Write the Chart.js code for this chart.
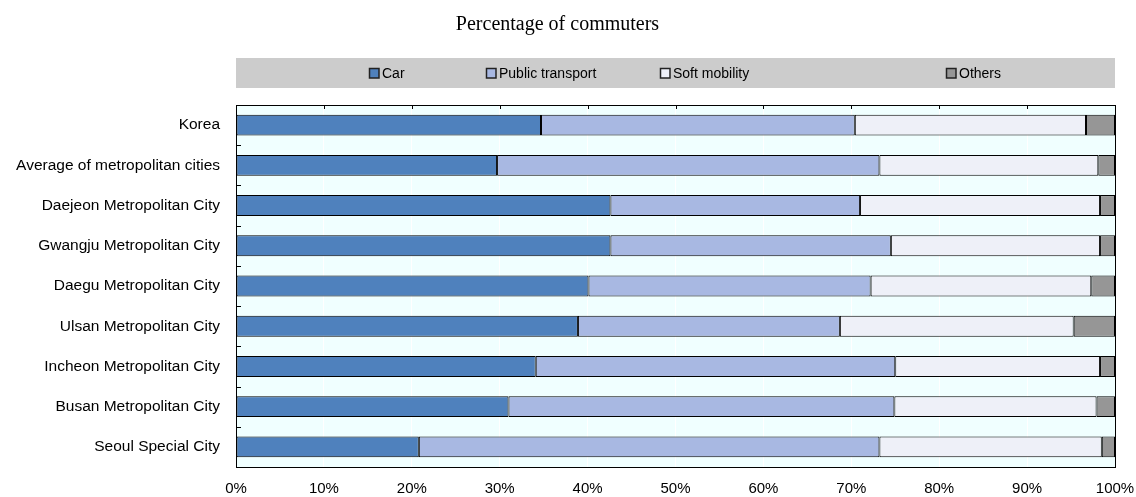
<!DOCTYPE html>
<html>
<head>
<meta charset="utf-8">
<title>Percentage of commuters</title>
<script src="https://cdn.jsdelivr.net/npm/chart.js@4.4.1/dist/chart.umd.min.js"></script>
<style>
  html, body { margin: 0; padding: 0; background: #fff; }
  #wrap { width: 1136px; height: 497px; position: relative; }
</style>
</head>
<body>
<div id="wrap"><canvas id="stage"></canvas></div>
<script>
// commuter share by mode, in %
var cities = [
  'Korea',
  'Average of metropolitan cities',
  'Daejeon Metropolitan City',
  'Gwangju Metropolitan City',
  'Daegu Metropolitan City',
  'Ulsan Metropolitan City',
  'Incheon Metropolitan City',
  'Busan Metropolitan City',
  'Seoul Special City'
];
var car       = [34.7, 29.7, 42.6, 42.6, 40.1, 38.9, 34.1, 31.0, 20.8];
var transport = [35.7, 43.5, 28.4, 31.9, 32.1, 29.8, 40.9, 43.9, 52.4];
var soft      = [26.3, 24.9, 27.3, 23.8, 25.1, 26.6, 23.3, 23.0, 25.3];
var others    = [3.3, 1.9, 1.7, 1.7, 2.7, 4.7, 1.7, 2.1, 1.5];
var tickLabels = ['0%', '10%', '20%', '30%', '40%', '50%', '60%', '70%', '80%', '90%', '100%'];

// where each legend entry starts, as a share of the plot width
var legendSlots = [0.151, 0.284, 0.482, 0.808];

var sans = "'Liberation Sans', Arial, sans-serif";

function series(label, data, color) {
  return {
    label: label,
    data: data,
    backgroundColor: color,
    borderColor: '#000',
    borderWidth: 1,
    borderSkipped: false,
    categoryPercentage: 1,
    barPercentage: 0.52
  };
}

var framePlugin = {
  id: 'frame',
  beforeDraw: function(chart) {
    var a = chart.chartArea, ctx = chart.ctx;
    ctx.save();
    ctx.fillStyle = '#F0FFFF';
    ctx.fillRect(a.left, a.top, a.right - a.left, a.bottom - a.top);
    ctx.restore();
  },
  afterDatasetsDraw: function(chart) {
    var a = chart.chartArea, ctx = chart.ctx;
    var xs = chart.scales.x;
    ctx.save();
    ctx.strokeStyle = '#000';
    ctx.lineWidth = 1;
    ctx.strokeRect(Math.round(a.left) + 0.5, Math.round(a.top) + 0.5,
      Math.round(a.right - a.left), Math.round(a.bottom - a.top));
    ctx.beginPath();
    // small inward ticks along the top edge
    for (var v = 10; v < 100; v += 10) {
      var px = Math.round(xs.getPixelForValue(v)) + 0.5;
      ctx.moveTo(px, a.top);
      ctx.lineTo(px, a.top + 4);
    }
    // and between categories on the left edge
    var step = (a.bottom - a.top) / cities.length;
    for (var i = 1; i < cities.length; i++) {
      var py = Math.round(a.top + step * i) + 0.5;
      ctx.moveTo(a.left, py);
      ctx.lineTo(a.left + 5, py);
    }
    ctx.stroke();
    ctx.restore();
  },
  afterDraw: function(chart) {
    var a = chart.chartArea, ctx = chart.ctx;
    var top = 58, h = 30;
    ctx.save();
    ctx.fillStyle = '#CCCCCC';
    ctx.fillRect(a.left, top, a.right - a.left, h);
    ctx.font = '14px ' + sans;
    ctx.textBaseline = 'middle';
    ctx.textAlign = 'left';
    chart.data.datasets.forEach(function(ds, i) {
      var x = Math.round(a.left + (a.right - a.left) * legendSlots[i]);
      var cy = top + h / 2;
      ctx.fillStyle = ds.backgroundColor;
      ctx.fillRect(x, cy - 5, 10, 10);
      ctx.strokeStyle = '#222';
      ctx.lineWidth = 1.5;
      ctx.strokeRect(x + 0.5, cy - 4.5, 9.5, 9.5);
      ctx.fillStyle = '#000';
      ctx.fillText(ds.label, x + 13, cy + 1);
    });
    ctx.restore();
  }
};

var canvas = document.getElementById('stage');
var chart = new Chart(canvas, {
  type: 'bar',
  data: {
    labels: cities,
    datasets: [
      series('Car', car, '#4F81BD'),
      series('Public transport', transport, '#A8B8E2'),
      series('Soft mobility', soft, '#EEF0F8'),
      series('Others', others, '#969696')
    ]
  },
  options: {
    indexAxis: 'y',
    responsive: true,
    maintainAspectRatio: false,
    animation: false,
    layout: { padding: { left: 0, right: 21, top: 0, bottom: 0 } },
    plugins: {
      legend: { display: false },
      tooltip: { enabled: false },
      title: {
        display: true,
        text: 'Percentage of commuters',
        color: '#000',
        font: { family: "'Liberation Serif', 'Times New Roman', serif", size: 20, weight: 'normal', lineHeight: 1.2 },
        padding: { top: 13, bottom: 68 }
      }
    },
    scales: {
      x: {
        stacked: true,
        min: 0,
        max: 100,
        grid: { color: '#FFFFFF', lineWidth: 1, drawTicks: false },
        border: { display: false },
        ticks: {
          stepSize: 10,
          color: '#000',
          padding: 13,
          font: { family: sans, size: 15 },
          callback: function(value, index) { return tickLabels[index]; }
        },
        afterFit: function(scale) {
          scale.height = 30;
          scale.paddingLeft = 0;
          scale.paddingRight = 0;
        }
      },
      y: {
        stacked: true,
        grid: { display: false, drawTicks: false },
        border: { display: false },
        ticks: {
          color: '#000',
          padding: 16,
          font: { family: sans, size: 15.5 }
        },
        afterFit: function(scale) {
          scale.width = 236;
          scale.paddingTop = 0;
          scale.paddingBottom = 0;
        }
      }
    }
  },
  plugins: [framePlugin]
});
</script>
</body>
</html>
